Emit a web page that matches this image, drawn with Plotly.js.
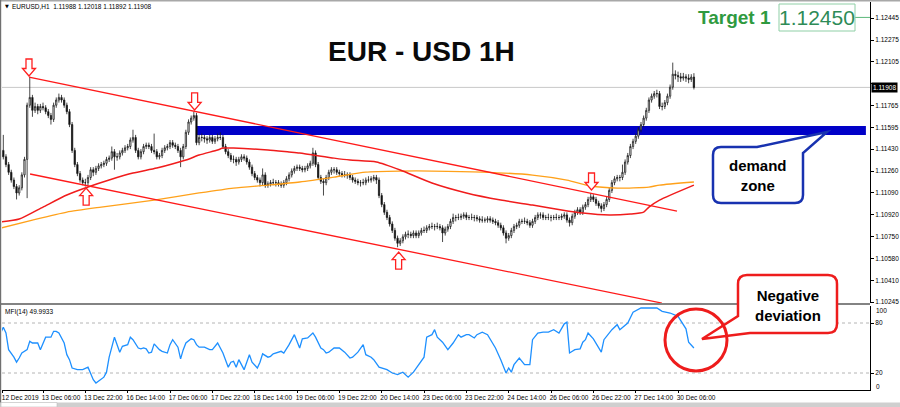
<!DOCTYPE html>
<html><head><meta charset="utf-8">
<script src="https://cdn.plot.ly/plotly-3.0.1.min.js"></script>
<style>html,body{margin:0;padding:0;background:#fff;}#chart{width:900px;height:407px;}</style>
</head><body><div id="chart"></div>
<script>
// ---------- DATA ----------
const dateLabels = ["12 Dec 2019","13 Dec 06:00","13 Dec 22:00","16 Dec 14:00","17 Dec 06:00","17 Dec 22:00","18 Dec 14:00","19 Dec 06:00","19 Dec 22:00","20 Dec 14:00","23 Dec 06:00","23 Dec 22:00","24 Dec 14:00","26 Dec 06:00","26 Dec 22:00","27 Dec 14:00","30 Dec 06:00"];
const labelBars = [0,16,32,48,64,80,96,112,128,144,160,176,192,208,224,240,256];

const openP = [1.1146,1.1142,1.1137,1.1131,1.1125,1.1119,1.1114,1.1109,1.1113,1.1123,
1.1135,1.1177,1.1183,1.1173,1.1176,1.1173,1.1176,1.1175,1.1172,1.1169,
1.1166,1.1177,1.1181,1.1183,1.1181,1.1177,1.1172,1.1162,1.1142,1.1131,
1.1124,1.1119,1.1117,1.1117,1.1121,1.1127,1.1125,1.1128,1.1130,1.1131,
1.1132,1.1135,1.1136,1.1141,1.1137,1.1137,1.1140,1.1142,1.1144,1.1145,
1.1150,1.1152,1.1142,1.1137,1.1141,1.1145,1.1146,1.1145,1.1142,1.1141,
1.1137,1.1138,1.1142,1.1144,1.1145,1.1148,1.1146,1.1145,1.1142,1.1137,
1.1145,1.1156,1.1164,1.1167,1.1169,1.1148,1.1152,1.1152,1.1151,1.1150,
1.1152,1.1149,1.1151,1.1152,1.1152,1.1145,1.1141,1.1138,1.1135,1.1135,
1.1133,1.1135,1.1137,1.1136,1.1133,1.1129,1.1124,1.1121,1.1119,1.1117,
1.1123,1.1115,1.1116,1.1117,1.1117,1.1117,1.1116,1.1115,1.1117,1.1120,
1.1123,1.1126,1.1128,1.1129,1.1128,1.1127,1.1128,1.1130,1.1132,1.1140,
1.1131,1.1121,1.1118,1.1117,1.1121,1.1125,1.1127,1.1127,1.1125,1.1124,
1.1123,1.1123,1.1123,1.1121,1.1119,1.1118,1.1117,1.1117,1.1117,1.1119,
1.1119,1.1120,1.1121,1.1119,1.1107,1.1100,1.1094,1.1090,1.1085,1.1080,
1.1074,1.1070,1.1072,1.1075,1.1077,1.1077,1.1076,1.1078,1.1076,1.1078,
1.1080,1.1080,1.1082,1.1083,1.1083,1.1083,1.1083,1.1082,1.1078,1.1081,
1.1083,1.1087,1.1090,1.1090,1.1090,1.1091,1.1092,1.1090,1.1090,1.1090,
1.1090,1.1089,1.1088,1.1088,1.1088,1.1089,1.1088,1.1087,1.1086,1.1084,
1.1082,1.1078,1.1074,1.1076,1.1080,1.1083,1.1084,1.1087,1.1087,1.1087,
1.1086,1.1084,1.1087,1.1090,1.1092,1.1092,1.1090,1.1090,1.1090,1.1090,
1.1090,1.1090,1.1090,1.1091,1.1092,1.1088,1.1086,1.1091,1.1094,1.1096,
1.1094,1.1098,1.1100,1.1104,1.1106,1.1104,1.1101,1.1099,1.1097,1.1100,
1.1104,1.1111,1.1117,1.1120,1.1121,1.1121,1.1125,1.1133,1.1138,1.1145,
1.1149,1.1153,1.1158,1.1162,1.1167,1.1173,1.1181,1.1184,1.1186,1.1186,
1.1176,1.1176,1.1179,1.1184,1.1191,1.1201,1.1200,1.1199,1.1198,1.1199,
1.1198,1.1197,1.11988];

const highP = [1.1150,1.1154,1.1139,1.1133,1.1127,1.1121,1.1116,1.1115,1.1125,1.1137,
1.1179,1.1199,1.1185,1.1179,1.1178,1.1178,1.1179,1.1177,1.1174,1.1171,
1.1179,1.1183,1.1186,1.1185,1.1183,1.1179,1.1174,1.1164,1.1144,1.1133,
1.1126,1.1121,1.1120,1.1123,1.1129,1.1129,1.1130,1.1132,1.1133,1.1134,
1.1137,1.1138,1.1145,1.1143,1.1140,1.1142,1.1144,1.1146,1.1147,1.1152,
1.1158,1.1154,1.1144,1.1143,1.1147,1.1148,1.1148,1.1147,1.1155,1.1143,
1.1140,1.1144,1.1146,1.1147,1.1150,1.1150,1.1148,1.1147,1.1144,1.1147,
1.1158,1.1166,1.1169,1.1172,1.1171,1.1154,1.1155,1.1154,1.1153,1.1154,
1.1154,1.1153,1.1155,1.1156,1.1154,1.1147,1.1143,1.1140,1.1138,1.1137,
1.1137,1.1139,1.1139,1.1138,1.1135,1.1131,1.1126,1.1123,1.1121,1.1128,
1.1125,1.1118,1.1119,1.1120,1.1119,1.1119,1.1118,1.1119,1.1122,1.1125,
1.1128,1.1130,1.1131,1.1131,1.1130,1.1130,1.1132,1.1134,1.1144,1.1142,
1.1133,1.1123,1.1120,1.1123,1.1127,1.1129,1.1129,1.1129,1.1127,1.1126,
1.1126,1.1125,1.1125,1.1123,1.1121,1.1120,1.1119,1.1120,1.1121,1.1122,
1.1122,1.1123,1.1123,1.1121,1.1109,1.1102,1.1096,1.1092,1.1087,1.1082,
1.1076,1.1074,1.1077,1.1079,1.1080,1.1079,1.1080,1.1080,1.1080,1.1082,
1.1083,1.1084,1.1085,1.1086,1.1085,1.1086,1.1085,1.1084,1.1083,1.1085,
1.1089,1.1093,1.1092,1.1093,1.1093,1.1094,1.1094,1.1092,1.1093,1.1092,
1.1092,1.1091,1.1091,1.1090,1.1091,1.1091,1.1090,1.1089,1.1088,1.1086,
1.1084,1.1080,1.1078,1.1082,1.1085,1.1086,1.1089,1.1089,1.1090,1.1089,
1.1088,1.1089,1.1092,1.1094,1.1094,1.1094,1.1092,1.1093,1.1092,1.1092,
1.1093,1.1092,1.1093,1.1094,1.1094,1.1090,1.1093,1.1096,1.1098,1.1098,
1.1100,1.1102,1.1106,1.1109,1.1108,1.1106,1.1103,1.1101,1.1102,1.1106,
1.1113,1.1119,1.1122,1.1123,1.1123,1.1131,1.1135,1.1140,1.1147,1.1151,
1.1155,1.1160,1.1164,1.1169,1.1175,1.1183,1.1186,1.1188,1.1189,1.1188,
1.1179,1.1181,1.1186,1.1193,1.1210,1.1204,1.1203,1.1202,1.1202,1.1201,
1.1201,1.1201,1.12018];

const lowP = [1.1140,1.1135,1.1129,1.1123,1.1117,1.1112,1.1104,1.1107,1.1111,1.1121,
1.1105,1.1175,1.1168,1.1171,1.1170,1.1171,1.1173,1.1170,1.1167,1.1162,
1.1164,1.1175,1.1179,1.1179,1.1175,1.1170,1.1160,1.1140,1.1129,1.1122,
1.1117,1.1115,1.1114,1.1115,1.1119,1.1122,1.1123,1.1126,1.1128,1.1129,
1.1130,1.1133,1.1134,1.1127,1.1134,1.1135,1.1138,1.1140,1.1142,1.1143,
1.1148,1.1140,1.1135,1.1135,1.1139,1.1143,1.1143,1.1140,1.1139,1.1135,
1.1135,1.1136,1.1140,1.1142,1.1143,1.1144,1.1143,1.1140,1.1129,1.1135,
1.1143,1.1154,1.1162,1.1165,1.1146,1.1146,1.1149,1.1148,1.1147,1.1148,
1.1147,1.1147,1.1149,1.1150,1.1143,1.1139,1.1136,1.1133,1.1132,1.1130,
1.1131,1.1133,1.1134,1.1131,1.1127,1.1122,1.1119,1.1117,1.1114,1.1115,
1.1113,1.1113,1.1114,1.1115,1.1114,1.1114,1.1113,1.1113,1.1115,1.1118,
1.1121,1.1124,1.1126,1.1126,1.1125,1.1125,1.1126,1.1128,1.1130,1.1129,
1.1119,1.1116,1.1107,1.1115,1.1119,1.1123,1.1124,1.1123,1.1122,1.1121,
1.1121,1.1120,1.1119,1.1117,1.1116,1.1115,1.1114,1.1115,1.1115,1.1117,
1.1117,1.1118,1.1116,1.1105,1.1098,1.1092,1.1088,1.1083,1.1078,1.1072,
1.1067,1.1068,1.1070,1.1073,1.1074,1.1074,1.1074,1.1074,1.1074,1.1076,
1.1078,1.1078,1.1080,1.1081,1.1080,1.1081,1.1080,1.1071,1.1076,1.1079,
1.1081,1.1085,1.1087,1.1088,1.1088,1.1089,1.1088,1.1088,1.1088,1.1087,
1.1087,1.1086,1.1086,1.1086,1.1086,1.1086,1.1085,1.1084,1.1082,1.1080,
1.1076,1.1070,1.1072,1.1074,1.1078,1.1081,1.1082,1.1085,1.1085,1.1084,
1.1082,1.1082,1.1085,1.1088,1.1089,1.1088,1.1088,1.1088,1.1087,1.1088,
1.1088,1.1088,1.1088,1.1089,1.1086,1.1083,1.1084,1.1089,1.1092,1.1092,
1.1092,1.1096,1.1098,1.1102,1.1102,1.1099,1.1097,1.1094,1.1095,1.1098,
1.1102,1.1109,1.1115,1.1118,1.1118,1.1119,1.1123,1.1131,1.1136,1.1143,
1.1147,1.1151,1.1156,1.1160,1.1165,1.1171,1.1179,1.1182,1.1183,1.1174,
1.1173,1.1174,1.1177,1.1182,1.1189,1.1197,1.1195,1.1195,1.1196,1.1195,
1.1194,1.1195,1.11892];

const closeP = [1.1142,1.1137,1.1131,1.1125,1.1119,1.1114,1.1109,1.1113,1.1123,1.1135,
1.1177,1.1183,1.1173,1.1176,1.1173,1.1176,1.1175,1.1172,1.1169,1.1166,
1.1177,1.1181,1.1183,1.1181,1.1177,1.1172,1.1162,1.1142,1.1131,1.1124,
1.1119,1.1117,1.1117,1.1121,1.1127,1.1125,1.1128,1.1130,1.1131,1.1132,
1.1135,1.1136,1.1141,1.1137,1.1137,1.1140,1.1142,1.1144,1.1145,1.1150,
1.1152,1.1142,1.1137,1.1141,1.1145,1.1146,1.1145,1.1142,1.1141,1.1137,
1.1138,1.1142,1.1144,1.1145,1.1148,1.1146,1.1145,1.1142,1.1137,1.1145,
1.1156,1.1164,1.1167,1.1169,1.1148,1.1152,1.1152,1.1151,1.1150,1.1152,
1.1149,1.1151,1.1152,1.1152,1.1145,1.1141,1.1138,1.1135,1.1135,1.1133,
1.1135,1.1137,1.1136,1.1133,1.1129,1.1124,1.1121,1.1119,1.1117,1.1123,
1.1115,1.1116,1.1117,1.1117,1.1117,1.1116,1.1115,1.1117,1.1120,1.1123,
1.1126,1.1128,1.1129,1.1128,1.1127,1.1128,1.1130,1.1132,1.1140,1.1131,
1.1121,1.1118,1.1117,1.1121,1.1125,1.1127,1.1127,1.1125,1.1124,1.1123,
1.1123,1.1123,1.1121,1.1119,1.1118,1.1117,1.1117,1.1117,1.1119,1.1119,
1.1120,1.1121,1.1119,1.1107,1.1100,1.1094,1.1090,1.1085,1.1080,1.1074,
1.1070,1.1072,1.1075,1.1077,1.1077,1.1076,1.1078,1.1076,1.1078,1.1080,
1.1080,1.1082,1.1083,1.1083,1.1083,1.1083,1.1082,1.1078,1.1081,1.1083,
1.1087,1.1090,1.1090,1.1090,1.1091,1.1092,1.1090,1.1090,1.1090,1.1090,
1.1089,1.1088,1.1088,1.1088,1.1089,1.1088,1.1087,1.1086,1.1084,1.1082,
1.1078,1.1074,1.1076,1.1080,1.1083,1.1084,1.1087,1.1087,1.1087,1.1086,
1.1084,1.1087,1.1090,1.1092,1.1092,1.1090,1.1090,1.1090,1.1090,1.1090,
1.1090,1.1090,1.1091,1.1092,1.1088,1.1086,1.1091,1.1094,1.1096,1.1094,
1.1098,1.1100,1.1104,1.1106,1.1104,1.1101,1.1099,1.1097,1.1100,1.1104,
1.1111,1.1117,1.1120,1.1121,1.1121,1.1125,1.1133,1.1138,1.1145,1.1149,
1.1153,1.1158,1.1162,1.1167,1.1173,1.1181,1.1184,1.1186,1.1186,1.1176,
1.1176,1.1179,1.1184,1.1191,1.1201,1.1200,1.1199,1.1198,1.1199,1.1198,
1.1197,1.11988,1.11908];

const redMaBars = [0,7,16,25,33,41,50,59,70,75,82,84,88,101,109,113,126,132,142,151,163,176,189,201,212,220,230,238,243,245,249,262];
const redMaVals = [1.10865,1.10888,1.10981,1.11074,1.11136,1.11190,1.11244,1.11283,1.11345,1.11384,1.11423,1.11438,1.11438,1.11423,1.11407,1.11399,1.11360,1.11345,1.11330,1.11268,1.11167,1.11090,1.11035,1.10996,1.10958,1.10934,1.10919,1.10927,1.10942,1.10981,1.11035,1.11151];

const orangeMaBars = [0,12,25,38,58,75,88,101,113,126,138,151,163,182,201,214,223,233,245,249,262];
const orangeMaVals = [1.10818,1.10880,1.10942,1.10981,1.11035,1.11090,1.11128,1.11151,1.11175,1.11213,1.11252,1.11260,1.11260,1.11252,1.11229,1.11190,1.11144,1.11128,1.11136,1.11151,1.11175];

const upperChannelBars = [10.7,255.6];
const upperChannelVals = [1.11988,1.10950];
const lowerChannelBars = [11.1,249.9];
const lowerChannelVals = [1.11237,1.10237];

const mfiBars = [0,1,2,3,5,6,7,8,10,11,12,14,15,16,17,19,20,21,22,24,25,26,27,29,30,31,33,34,35,36,38,39,40,41,43,45,46,48,49,50,52,53,54,55,56,57,58,59,60,61,63,64,65,67,68,69,70,72,73,74,75,77,78,79,80,82,84,86,87,88,89,90,92,93,94,95,97,98,99,101,102,103,104,106,107,109,111,113,114,116,118,119,121,122,123,124,126,128,130,132,133,135,137,138,140,141,143,146,148,150,152,154,156,158,160,161,163,164,165,167,169,171,173,174,176,177,179,180,182,184,186,187,189,191,192,193,194,196,198,200,201,203,205,207,209,211,213,214,215,217,219,220,221,222,224,227,228,230,231,233,234,237,239,242,245,248,250,253,256,258,259,260,262];
const mfiVals = [68,75,68,48,39,33,38,44,48,58,56,56,48,56,63,63,70,70,68,56,42,36,26,24,24,24,27,20,12,8,12,15,21,39,63,45,52,54,63,60,50,49,50,49,44,45,55,51,48,46,44,54,60,51,37,48,56,61,60,54,51,51,49,48,48,56,44,27,33,34,27,36,24,33,42,33,26,33,43,39,40,43,44,46,44,54,66,50,61,62,68,63,50,48,44,45,50,50,45,38,39,45,54,42,39,36,27,24,20,18,21,15,21,30,39,63,66,72,63,57,48,56,66,63,66,66,62,66,69,66,56,50,36,20,26,21,30,38,30,30,60,68,69,69,72,68,79,81,44,48,49,57,60,68,61,45,60,69,72,78,72,80,93,98,98,98,94,92,88,78,73,57,49.99];

const priceTicks = [1.12445,1.12275,1.12105,1.11935,1.11765,1.11595,1.11430,1.11260,1.11090,1.10920,1.10750,1.10580,1.10410,1.10245];
const hiddenTick = 1.11935; // covered by the current-price label in the reference
const mfiLevels = [80,20];
const lastPrice = 1.11908;
const targetPrice = 1.12450;
const demandLow = 1.11539, demandHigh = 1.11608, demandFromBar = 73.8, demandToBar = 327;
const arrows = [
  {bar:10.7, price:1.11996, dir:'down'},
  {bar:73.3, price:1.11733, dir:'down'},
  {bar:32.3, price:1.11128, dir:'up'},
  {bar:150.4, price:1.10632, dir:'up'},
  {bar:223.3, price:1.11113, dir:'down'}
];

// ---------- LAYOUT HELPERS ----------
const W=900, H=407, ML=2, MR=30, MT=2, MB=17;
const PW=W-ML-MR, PH=H-MT-MB, BOT=H-MB;
const px = x => (x-ML)/PW;
const py = y => (BOT-y)/PH;
const P = (x,y) => px(x).toFixed(5)+','+py(y).toFixed(5);
const small = {family:'Liberation Sans, Arial, sans-serif', size:6.5, color:'#000'};

const bars = openP.map((_,i)=>i);

const traces = [
  {type:'candlestick', x:bars, open:openP, high:highP, low:lowP, close:closeP,
   xaxis:'x', yaxis:'y', hoverinfo:'skip', whiskerwidth:0,
   increasing:{line:{color:'#1a1a1a', width:0.8}, fillcolor:'#ffffff'},
   decreasing:{line:{color:'#1a1a1a', width:0.8}, fillcolor:'#000000'}},
  {type:'scatter', mode:'lines', x:orangeMaBars, y:orangeMaVals, line:{color:'#ffa11a', width:1.3, shape:'spline', smoothing:0.6}, xaxis:'x', yaxis:'y', hoverinfo:'skip'},
  {type:'scatter', mode:'lines', x:redMaBars, y:redMaVals, line:{color:'#f01c1c', width:1.5, shape:'spline', smoothing:0.6}, xaxis:'x', yaxis:'y', hoverinfo:'skip'},
  {type:'scatter', mode:'lines', x:upperChannelBars, y:upperChannelVals, line:{color:'#ff1a1a', width:1.3}, xaxis:'x', yaxis:'y', hoverinfo:'skip'},
  {type:'scatter', mode:'lines', x:lowerChannelBars, y:lowerChannelVals, line:{color:'#ff1a1a', width:1.3}, xaxis:'x', yaxis:'y', hoverinfo:'skip'},
  {type:'scatter', mode:'lines', x:mfiBars, y:mfiVals, line:{color:'#1e90ff', width:1.3}, xaxis:'x', yaxis:'y2', hoverinfo:'skip'}
];

const shapes = [];
shapes.push({type:'rect', xref:'x', yref:'y', x0:demandFromBar, x1:demandToBar, y0:demandLow, y1:demandHigh, fillcolor:'#0000c8', line:{width:0}, layer:'below'});
shapes.push({type:'line', xref:'paper', yref:'y', x0:0, x1:1, y0:lastPrice, y1:lastPrice, line:{color:'#c8c8c8', width:1}, layer:'below'});
mfiLevels.forEach(v=>shapes.push({type:'line', xref:'paper', yref:'y2', x0:0, x1:1, y0:v, y1:v, line:{color:'#b4b4b4', width:1, dash:'dot'}, layer:'below'}));
shapes.push({type:'line', xref:'paper', yref:'y', x0:px(855), x1:1, y0:targetPrice, y1:targetPrice, line:{color:'#5cb87a', width:1}});
arrows.forEach(a=>{
  const s = a.dir==='down' ? 1 : -1;
  const pts = [[0,0],[-6.5,7.5],[-3,7.5],[-3,17],[3,17],[3,7.5],[6.5,7.5]].map(p=>p[0]+','+(p[1]*s));
  shapes.push({type:'path', xref:'x', yref:'y', xsizemode:'pixel', ysizemode:'pixel', xanchor:a.bar, yanchor:a.price,
    path:'M'+pts.join(' L')+' Z', line:{color:'#ff2020', width:1.3}, fillcolor:'#ffffff'});
});
shapes.push({type:'line', xref:'paper', yref:'paper', x0:px(0), x1:1, y0:py(304), y1:py(304), line:{color:'#5a5a5a', width:1.6}});
shapes.push({type:'line', xref:'paper', yref:'paper', x0:px(0), x1:px(900), y0:py(0.8), y1:py(0.8), line:{color:'#a8a8a8', width:1.6}});
shapes.push({type:'line', xref:'paper', yref:'paper', x0:px(0.6), x1:px(0.6), y0:py(0), y1:py(404), line:{color:'#707070', width:1.2}});
shapes.push({type:'rect', xref:'paper', yref:'paper', x0:px(0), x1:px(900), y0:py(407), y1:py(402.5), fillcolor:'#cfcfcf', line:{width:0}});
shapes.push({type:'rect', xref:'paper', yref:'paper', x0:px(1), x1:px(57), y0:py(407), y1:py(402.5), fillcolor:'#ffffff', line:{color:'#bdbdbd', width:0.6}});
shapes.push({type:'rect', xref:'paper', yref:'paper', x0:px(779), x1:px(855), y0:py(31), y1:py(4), fillcolor:'#ffffff', line:{color:'#8fcfa6', width:1}});
shapes.push({type:'path', xref:'paper', yref:'paper',
  path:'M'+P(721,147)+' L'+P(757,147)+' L'+P(827,132)+' L'+P(803,153)+' L'+P(803,195)+' Q'+P(803,203)+' '+P(795,203)+' L'+P(721,203)+' Q'+P(713,203)+' '+P(713,195)+' L'+P(713,155)+' Q'+P(713,147)+' '+P(721,147)+' Z',
  line:{color:'#1832b0', width:2.5}, fillcolor:'#ffffff'});
shapes.push({type:'path', xref:'paper', yref:'paper',
  path:'M'+P(747,275)+' L'+P(828,275)+' Q'+P(837,275)+' '+P(837,284)+' L'+P(837,324)+' Q'+P(837,333)+' '+P(828,333)+' L'+P(750,333)+' L'+P(702,339)+' L'+P(738,316)+' L'+P(738,284)+' Q'+P(738,275)+' '+P(747,275)+' Z',
  line:{color:'#ee1c1c', width:2.5}, fillcolor:'#ffffff'});
shapes.push({type:'circle', xref:'paper', yref:'paper', x0:px(665), x1:px(727), y0:py(371), y1:py(309), line:{color:'#ee1c1c', width:3}});

const annotations = [
  {xref:'paper', yref:'paper', x:px(3), y:py(6.5), xanchor:'left', yanchor:'middle', showarrow:false, text:'▼', font:{family:'DejaVu Sans', size:5, color:'#000'}},
  {xref:'paper', yref:'paper', x:px(10), y:py(6.5), xanchor:'left', yanchor:'middle', showarrow:false, text:'EURUSD,H1\u00a0\u00a01.11988 1.12018 1.11892 1.11908', font:small},
  {xref:'paper', yref:'paper', x:px(421), y:py(51), xanchor:'center', yanchor:'middle', showarrow:false, text:'<b>EUR - USD 1H</b>', font:{family:'Liberation Sans, Arial, sans-serif', size:28, color:'#0a0a0a'}},
  {xref:'paper', yref:'paper', x:px(734), y:py(17.5), xanchor:'center', yanchor:'middle', showarrow:false, text:'<b>Target 1</b>', font:{family:'Liberation Sans, Arial, sans-serif', size:19, color:'#2f9a3f'}},
  {xref:'paper', yref:'paper', x:px(817), y:py(18), xanchor:'center', yanchor:'middle', showarrow:false, text:'1.12450', font:{family:'Liberation Sans, Arial, sans-serif', size:21, color:'#2e8b57'}},
  {xref:'paper', yref:'paper', x:px(758), y:py(175), xanchor:'center', yanchor:'middle', showarrow:false, text:'<b>demand<br>zone</b>', font:{family:'Liberation Sans, Arial, sans-serif', size:15, color:'#000'}},
  {xref:'paper', yref:'paper', x:px(788), y:py(305), xanchor:'center', yanchor:'middle', showarrow:false, text:'<b>Negative<br>deviation</b>', font:{family:'Liberation Sans, Arial, sans-serif', size:15, color:'#000'}},
  {xref:'paper', yref:'paper', x:px(3), y:py(311.5), xanchor:'left', yanchor:'middle', showarrow:false, text:'MFI(14) 49.9933', font:small},
  {xref:'paper', yref:'y', x:1, y:lastPrice, xanchor:'left', yanchor:'middle', xshift:1, showarrow:false, text:'1.11908', bgcolor:'#000', borderpad:1, font:{family:'Liberation Sans, Arial, sans-serif', size:6.5, color:'#fff'}},
  {xref:'paper', yref:'paper', x:1, y:py(310), xanchor:'left', yanchor:'middle', xshift:4, showarrow:false, text:'100', font:small},
  {xref:'paper', yref:'paper', x:1, y:py(386), xanchor:'left', yanchor:'middle', xshift:4, showarrow:false, text:'0', font:small}
];

const layout = {
  width:W, height:H, margin:{l:ML, r:MR, t:MT, b:MB}, paper_bgcolor:'#fff', plot_bgcolor:'#fff', showlegend:false,
  xaxis:{range:[0.5,328.55], anchor:'y2', showgrid:false, zeroline:false, showline:true, linecolor:'#000', linewidth:1,
    ticks:'outside', ticklen:2, tickcolor:'#000', tickvals:labelBars.map(b=>Math.max(b,0.6)), ticktext:dateLabels,
    tickfont:small, ticklabelshift:18, ticklabelstandoff:-1, rangeslider:{visible:false}, fixedrange:true},
  yaxis:{domain:[py(303),1], range:[1.102377,1.125694], side:'right', tickvals:priceTicks,
    ticktext:priceTicks.map(v=> v===hiddenTick ? '' : v.toFixed(5)),
    ticks:'outside', ticklen:3, tickcolor:'#000', showgrid:false, zeroline:false, showline:true, linecolor:'#000', linewidth:1, tickfont:small, fixedrange:true},
  yaxis2:{domain:[0,py(305.5)], range:[-0.4,101], side:'right', tickvals:mfiLevels, ticks:'outside', ticklen:3, tickcolor:'#000',
    showgrid:false, zeroline:false, showline:true, linecolor:'#000', linewidth:1, tickfont:small, fixedrange:true},
  shapes:shapes, annotations:annotations
};

Plotly.newPlot('chart', traces, layout, {staticPlot:true, displayModeBar:false});
</script>
</body></html>
